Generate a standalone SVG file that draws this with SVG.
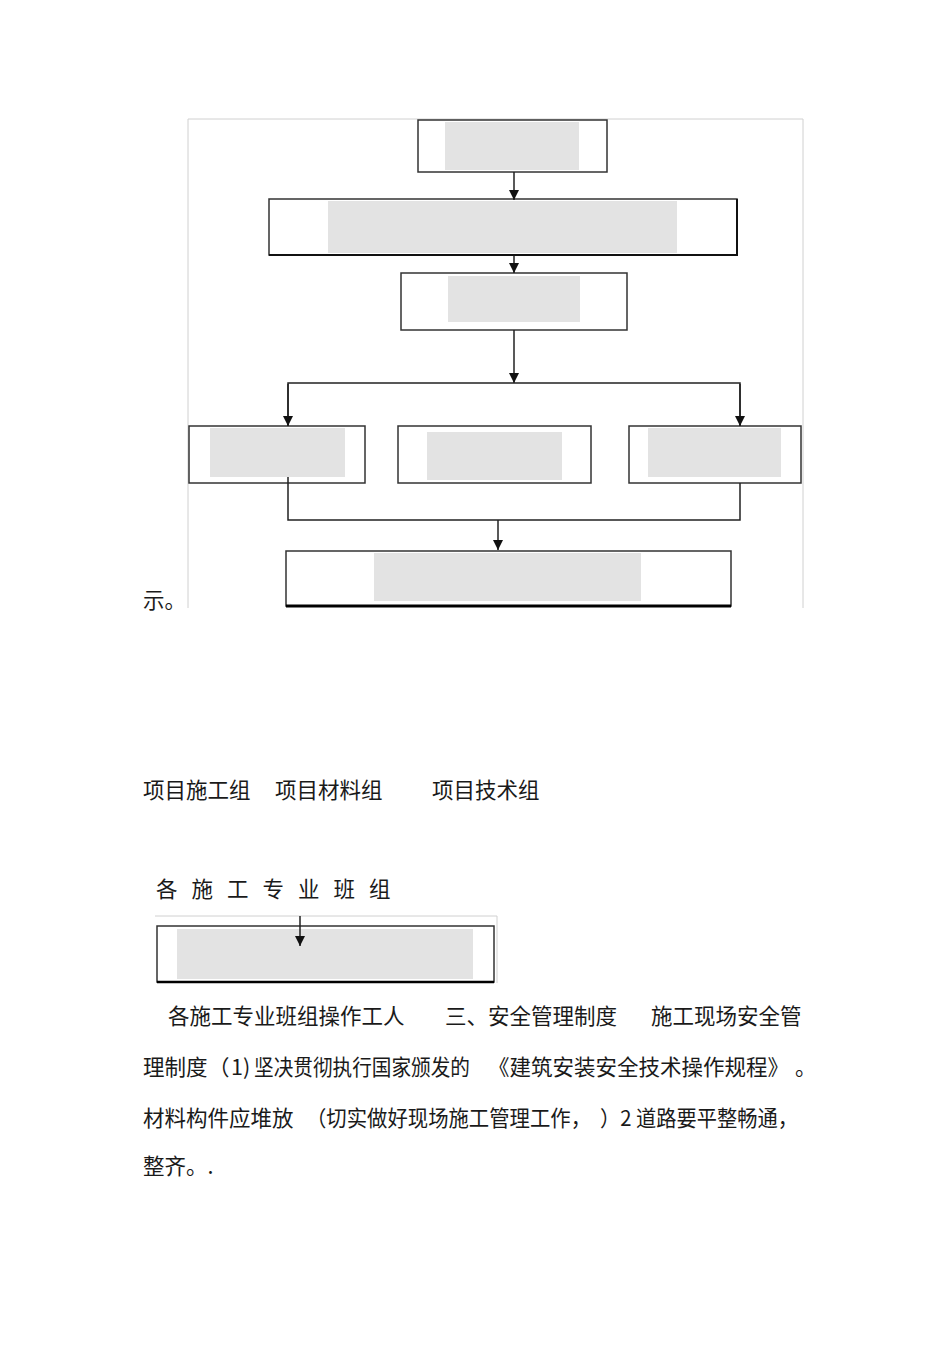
<svg xmlns="http://www.w3.org/2000/svg" width="950" height="1345" viewBox="0 0 950 1345">
<style>
.box{fill:#fff;stroke:#333;stroke-width:1.5}
.fill{fill:#e3e3e3}
.frame{fill:none;stroke:#d0d0d0;stroke-width:1}
.con{fill:none;stroke:#222;stroke-width:1.5}
.t{font-family:"Noto Sans CJK SC","Noto Sans",sans-serif;font-size:21.5px;fill:#1a1a1a}
</style>
<defs>
<marker id="ah" markerUnits="userSpaceOnUse" viewBox="0 0 10 10" refX="10" refY="5" markerWidth="12" markerHeight="10" orient="auto">
<path d="M0,0 L10,5 L0,10 z" fill="#111"/>
</marker>
</defs>
<rect width="950" height="1345" fill="#fff"/>
<path class="frame" d="M188,608 V119 H803 V608"/>
<g id="n1"><rect class="box" x="418" y="120" width="189" height="52"/><rect class="fill" x="445" y="122" width="134" height="48"/></g>
<g id="n2"><rect class="box" x="269" y="199" width="468" height="56"/><rect class="fill" x="328" y="201" width="349" height="52"/><path d="M737,199 V256 M269,255 H737" stroke="#111" stroke-width="2" fill="none"/></g>
<g id="n3"><rect class="box" x="401" y="273" width="226" height="57"/><rect class="fill" x="448" y="276" width="132" height="46"/></g>
<g id="n4"><rect class="box" x="189" y="426" width="176" height="57"/><rect class="fill" x="210" y="428" width="135" height="49"/></g>
<g id="n5"><rect class="box" x="398" y="426" width="193" height="57"/><rect class="fill" x="427" y="432" width="135" height="48"/></g>
<g id="n6"><rect class="box" x="629" y="426" width="172" height="57"/><rect class="fill" x="648" y="428" width="133" height="49"/></g>
<g id="n7"><rect class="box" x="286" y="551" width="445" height="55"/><rect class="fill" x="374" y="553" width="267" height="48"/><path d="M286,606 H731" stroke="#000" stroke-width="3"/></g>
<g id="n8"><path class="frame" d="M155,916 H497 V983"/><rect class="box" x="157" y="926" width="337" height="56"/><rect class="fill" x="177" y="929" width="296" height="50"/><path d="M157,982 H494" stroke="#000" stroke-width="2.5"/></g>
<g id="connectors">
<path class="con" d="M514,172 V200" marker-end="url(#ah)"/>
<path class="con" d="M514,256 V273" marker-end="url(#ah)"/>
<path class="con" d="M514,330 V383" marker-end="url(#ah)"/>
<path class="con" d="M288,426 V383 H740 V426"/>
<path class="con" d="M288,384 V426" marker-end="url(#ah)"/>
<path class="con" d="M740,384 V426" marker-end="url(#ah)"/>
<path class="con" d="M288,477 V520 H740 V483"/>
<path class="con" d="M498,520 V550" marker-end="url(#ah)"/>
<path class="con" d="M300,916 V946" marker-end="url(#ah)"/>
</g>
<g id="texts">
<text class="t" x="143" y="608">示。</text>
<text class="t" x="143" y="798">项目施工组</text>
<text class="t" x="275" y="798">项目材料组</text>
<text class="t" x="432" y="798">项目技术组</text>
<text class="t" x="156" y="897" letter-spacing="14">各施工专业班组</text>
<text class="t" x="168" y="1024">各施工专业班组操作工人</text>
<text class="t" x="445" y="1024">三、安全管理制度</text>
<text class="t" x="651" y="1024">施工现场安全管</text>
<text class="t" x="143" y="1075">理制度</text>
<text class="t" x="208" y="1075">（</text>
<text class="t" x="231" y="1075">1)</text>
<text class="t" x="254" y="1075" textLength="216" lengthAdjust="spacingAndGlyphs">坚决贯彻执行国家颁发的</text>
<text class="t" x="488" y="1075">《建筑安装安全技术操作规程》</text>
<text class="t" x="795" y="1075">。</text>
<text class="t" x="143" y="1126">材料构件应堆放</text>
<text class="t" x="306" y="1126" textLength="285" lengthAdjust="spacingAndGlyphs">（切实做好现场施工管理工作，</text>
<text class="t" x="600" y="1126" textLength="198" lengthAdjust="spacingAndGlyphs">）2 道路要平整畅通，</text>
<text class="t" x="143" y="1174">整齐。.</text>
</g>
</svg>
